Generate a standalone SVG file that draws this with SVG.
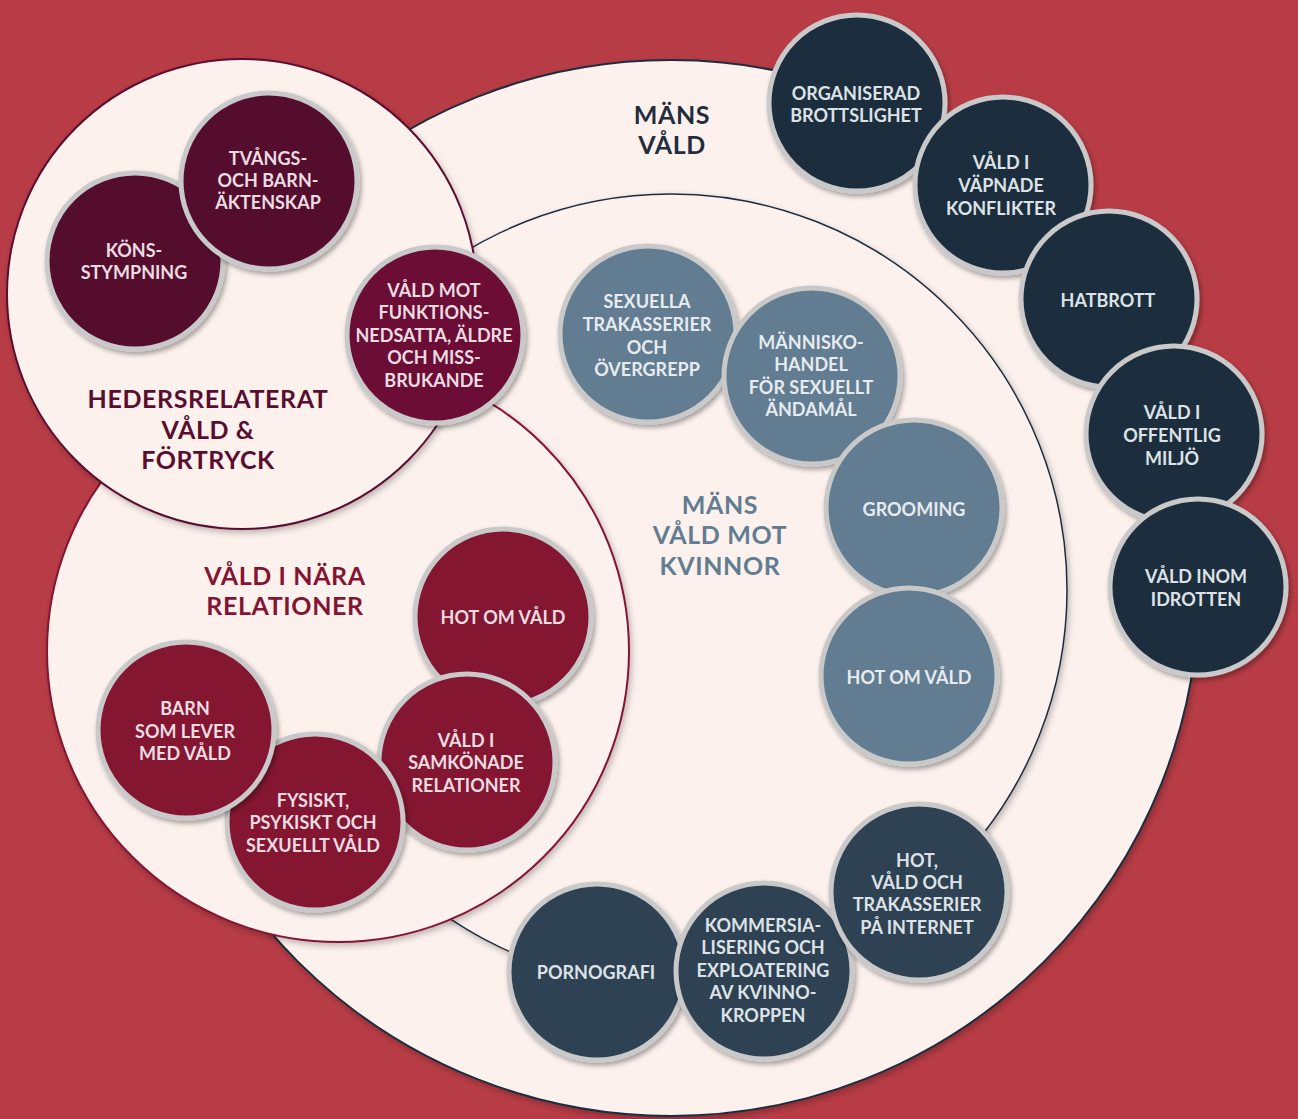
<svg xmlns="http://www.w3.org/2000/svg" width="1298" height="1119" viewBox="0 0 1298 1119">
<defs>
<filter id="sh" x="-20%" y="-20%" width="150%" height="150%">
<feDropShadow dx="2" dy="3" stdDeviation="2.5" flood-color="#000" flood-opacity="0.35"/>
</filter>
<filter id="shb" x="-10%" y="-10%" width="125%" height="125%">
<feDropShadow dx="2" dy="3" stdDeviation="3" flood-color="#000" flood-opacity="0.25"/>
</filter>
<style>
text{font-family:"Lato","Noto Sans","DejaVu Sans",sans-serif;font-weight:700;text-anchor:middle}
.n circle{stroke:#C9C9C9;stroke-width:5;filter:url(#sh)}
.n text{font-size:18px}
.dm circle{fill:#540D2F}
.fm circle{fill:#6C1134}
.cr circle{fill:#841432}
.sb circle{fill:#627C91}
.nv circle{fill:#1F2D3D}
.sl circle{fill:#2F4253}
.dm text,.fm text,.cr text{fill:#EBDCE1}
.sb text{fill:#E6EBEF}
.nv text,.sl text{fill:#DDE2E7}
.area{fill:#FCF1ED;filter:url(#shb)}
.h{font-size:25px;letter-spacing:0.6px}
</style>
</defs>
<rect width="1298" height="1119" fill="#B83C46"/>

<g id="area-mans-vald">
<circle class="area" cx="671" cy="588" r="528" stroke="#1F2D3D" stroke-width="2"/>
</g>
<g id="area-mans-vald-mot-kvinnor">
<circle class="area" cx="671" cy="590" r="396" stroke="#1F2D3D" stroke-width="1.5"/>
</g>
<g id="area-vald-i-nara-relationer">
<circle class="area" cx="338" cy="651" r="291" stroke="#841432" stroke-width="2"/>
</g>
<g id="area-hedersrelaterat">
<circle class="area" cx="242" cy="294" r="235" stroke="#5A0D2E" stroke-width="2"/>
</g>

<g id="headers">
<text class="h" fill="#5A0D2E"><tspan x="208" y="408">HEDERSRELATERAT</tspan><tspan x="208" y="439">VÅLD &amp;</tspan><tspan x="208" y="469">FÖRTRYCK</tspan></text>
<text class="h" fill="#1F2D3D"><tspan x="672" y="124">MÄNS</tspan><tspan x="672" y="154">VÅLD</tspan></text>
<text class="h" fill="#627C91"><tspan x="720" y="514">MÄNS</tspan><tspan x="720" y="544">VÅLD MOT</tspan><tspan x="720" y="575">KVINNOR</tspan></text>
<text class="h" fill="#841432"><tspan x="285" y="585">VÅLD I NÄRA</tspan><tspan x="285" y="615">RELATIONER</tspan></text>
</g>

<g id="connectors"></g>

<g id="node-konsstympning" class="n dm">
<circle cx="135" cy="261" r="88"/>
<text><tspan x="134" y="257">KÖNS-</tspan><tspan x="134" y="279">STYMPNING</tspan></text>
</g>
<g id="node-tvangsaktenskap" class="n dm">
<circle cx="269" cy="181" r="88"/>
<text><tspan x="268" y="165">TVÅNGS-</tspan><tspan x="268" y="187">OCH BARN-</tspan><tspan x="268" y="209">ÄKTENSKAP</tspan></text>
</g>
<g id="node-funktionsnedsatta" class="n fm">
<circle cx="435" cy="335" r="88"/>
<text><tspan x="434" y="297">VÅLD MOT</tspan><tspan x="434" y="319">FUNKTIONS-</tspan><tspan x="434" y="342">NEDSATTA, ÄLDRE</tspan><tspan x="434" y="364">OCH MISS-</tspan><tspan x="434" y="387">BRUKANDE</tspan></text>
</g>

<g id="node-hot-om-vald-nara" class="n cr">
<circle cx="503" cy="617" r="88"/>
<text><tspan x="503" y="624">HOT OM VÅLD</tspan></text>
</g>
<g id="node-samkonade" class="n cr">
<circle cx="467" cy="762" r="88"/>
<text><tspan x="466" y="747">VÅLD I</tspan><tspan x="466" y="769">SAMKÖNADE</tspan><tspan x="466" y="792">RELATIONER</tspan></text>
</g>
<g id="node-fysiskt" class="n cr">
<circle cx="315" cy="822" r="88"/>
<text><tspan x="313" y="807">FYSISKT,</tspan><tspan x="313" y="829">PSYKISKT OCH</tspan><tspan x="313" y="852">SEXUELLT VÅLD</tspan></text>
</g>
<g id="node-barn" class="n cr">
<circle cx="186" cy="730" r="88"/>
<text><tspan x="185" y="715">BARN</tspan><tspan x="185" y="738">SOM LEVER</tspan><tspan x="185" y="760">MED VÅLD</tspan></text>
</g>

<g id="node-sexuella-trakasserier" class="n sb">
<circle cx="648" cy="334" r="88"/>
<text><tspan x="647" y="308">SEXUELLA</tspan><tspan x="647" y="331">TRAKASSERIER</tspan><tspan x="647" y="354">OCH</tspan><tspan x="647" y="376">ÖVERGREPP</tspan></text>
</g>
<g id="node-manniskohandel" class="n sb">
<circle cx="812" cy="376" r="88"/>
<text><tspan x="811" y="349">MÄNNISKO-</tspan><tspan x="811" y="371">HANDEL</tspan><tspan x="811" y="394">FÖR SEXUELLT</tspan><tspan x="811" y="416">ÄNDAMÅL</tspan></text>
</g>
<g id="node-grooming" class="n sb">
<circle cx="914" cy="508" r="88"/>
<text><tspan x="914" y="516">GROOMING</tspan></text>
</g>
<g id="node-hot-om-vald-kvinnor" class="n sb">
<circle cx="909" cy="676" r="88"/>
<text><tspan x="909" y="684">HOT OM VÅLD</tspan></text>
</g>

<g id="node-organiserad" class="n nv">
<circle cx="857" cy="103" r="88"/>
<text><tspan x="856" y="100">ORGANISERAD</tspan><tspan x="856" y="122">BROTTSLIGHET</tspan></text>
</g>
<g id="node-vapnade" class="n nv">
<circle cx="1003" cy="185" r="88"/>
<text><tspan x="1001" y="169">VÅLD I</tspan><tspan x="1001" y="192">VÄPNADE</tspan><tspan x="1001" y="215">KONFLIKTER</tspan></text>
</g>
<g id="node-hatbrott" class="n nv">
<circle cx="1109" cy="299" r="88"/>
<text><tspan x="1108" y="307">HATBROTT</tspan></text>
</g>
<g id="node-offentlig" class="n nv">
<circle cx="1174" cy="434" r="88"/>
<text><tspan x="1172" y="419">VÅLD I</tspan><tspan x="1172" y="442">OFFENTLIG</tspan><tspan x="1172" y="465">MILJÖ</tspan></text>
</g>
<g id="node-idrotten" class="n nv">
<circle cx="1198" cy="587" r="88"/>
<text><tspan x="1196" y="583">VÅLD INOM</tspan><tspan x="1196" y="606">IDROTTEN</tspan></text>
</g>

<g id="node-pornografi" class="n sl">
<circle cx="597" cy="972" r="88"/>
<text><tspan x="596" y="979">PORNOGRAFI</tspan></text>
</g>
<g id="node-kommersialisering" class="n sl">
<circle cx="764" cy="971" r="88"/>
<text><tspan x="763" y="932">KOMMERSIA-</tspan><tspan x="763" y="954">LISERING OCH</tspan><tspan x="763" y="977">EXPLOATERING</tspan><tspan x="763" y="999">AV KVINNO-</tspan><tspan x="763" y="1022">KROPPEN</tspan></text>
</g>
<g id="node-internet" class="n sl">
<circle cx="919" cy="892" r="88"/>
<text><tspan x="917" y="867">HOT,</tspan><tspan x="917" y="889">VÅLD OCH</tspan><tspan x="917" y="911">TRAKASSERIER</tspan><tspan x="917" y="934">PÅ INTERNET</tspan></text>
</g>
</svg>
